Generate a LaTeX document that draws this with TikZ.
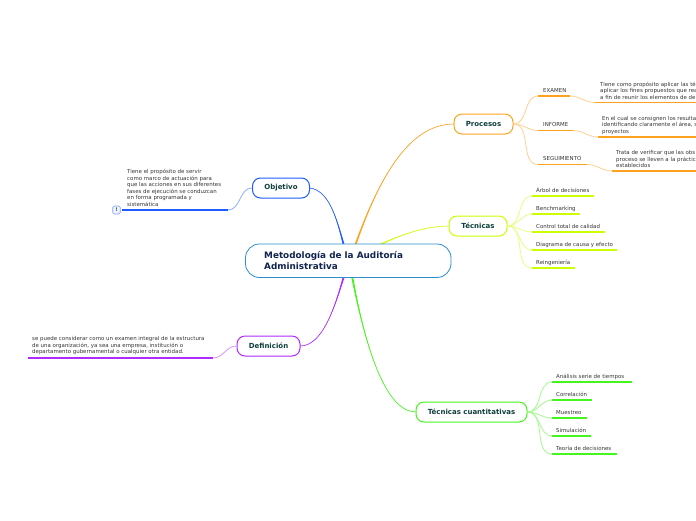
\documentclass[tikz,border=0pt]{standalone}
\usepackage{fontspec}
\setmainfont{DejaVu Sans}
\definecolor{cblue}{HTML}{1F5BFF}
\definecolor{corange}{HTML}{FFA21F}
\definecolor{cyellow}{HTML}{CCFF00}
\definecolor{cpurple}{HTML}{B02BFF}
\definecolor{cgreen}{HTML}{45F51E}
\definecolor{ccentral}{HTML}{2B8FD0}
\definecolor{ctitle}{HTML}{11234F}
\definecolor{ctopic}{HTML}{0E3F3A}
\definecolor{ctext}{HTML}{333333}
\tikzset{
  central/.style={draw=ccentral,line width=.8pt,fill=white,rounded corners=14pt,minimum width=205.5pt,minimum height=33.5pt,inner sep=0pt},
  title/.style={font=\bfseries\fontsize{8.85}{11}\selectfont,text=ctitle,align=left,inner sep=0pt,anchor=west},
  topic/.style={draw=#1,line width=1pt,fill=white,rounded corners=8pt,minimum height=20pt,inner sep=0pt,text=ctopic,font=\bfseries\fontsize{7}{8}\selectfont},
  leaf/.style={font=\fontsize{5.45}{6.5}\selectfont,text=ctext,align=left,inner sep=0pt,anchor=west,yshift=-.5pt},
  twig/.style={draw=#1!50,line width=.8pt},
  rule/.style={draw=#1,line width=1.4pt},
}
% tapered main branch: colour, topic end, control, control, root end, half width
\newcommand{\taperbranch}[6]{%
  \fill[#1] (#2) .. controls (#3) and (#4) .. ([xshift=-#6]#5) -- ([xshift=#6]#5) .. controls (#4) and (#3) .. (#2);
  \draw[#1,line width=.6pt] (#2) .. controls (#3) and (#4) .. (#5);
}
\begin{document}
\begin{tikzpicture}[x=1pt,y=-1pt]
\useasboundingbox (0,0) rectangle (696,520);
% anchor points on the central topic
\coordinate (cO) at (344,246);
\coordinate (cP) at (355,246);
\coordinate (cT) at (377,246);
\coordinate (cD) at (344,276);
\coordinate (cQ) at (352,276);
\coordinate (oR) at (309.5,188);
\coordinate (pL) at (454,124);
\coordinate (tL) at (449,226);
\coordinate (dR) at (300,346);
\coordinate (qL) at (416,412);
% connectors are drawn first, boxes cover their ends
\taperbranch{cblue}{oR}{328,190}{336,215}{cO}{1pt}
\taperbranch{corange}{pL}{410,124}{380,175}{cP}{1pt}
\taperbranch{cyellow}{tL}{425,226}{400,235}{cT}{2pt}
\taperbranch{cpurple}{dR}{322,346}{334,310}{cD}{1pt}
\taperbranch{cgreen}{qL}{385,412}{365,345}{cQ}{1pt}

\node[central] (root) at (348.25,260.75) {};
\node[title] (roottext) at (264,261) {Metodología de la Auditoría\\Administrativa};

\node[topic=corange,minimum width=59pt] (procesos) at (483.5,124) {\raisebox{-.5pt}{Procesos}};
\node[topic=cblue,minimum width=57pt] (objetivo) at (281,188) {\raisebox{-.5pt}{Objetivo}};
\node[topic=cyellow,minimum width=58pt] (tecnicas) at (478,226) {\raisebox{-.5pt}{Técnicas}};
\node[topic=cpurple,minimum width=63pt] (definicion) at (268.5,346) {\raisebox{-.5pt}{Definición}};
\node[topic=cgreen,minimum width=111pt] (cuant) at (471.5,412) {\raisebox{-.5pt}{Técnicas cuantitativas}};

% Procesos
\coordinate (e1) at (538,96);   \coordinate (e2) at (570,96);
\coordinate (e3) at (595,102.5);\coordinate (e4) at (696,102.5);
\coordinate (i1) at (538,130.5);\coordinate (i2) at (573,130.5);
\coordinate (i3) at (598,137);  \coordinate (i4) at (696,137);
\coordinate (s1) at (538,164.5);\coordinate (s2) at (587,164.5);
\coordinate (s3) at (612,171);  \coordinate (s4) at (696,171);
\foreach \a/\b/\c/\d in {e1/e2/e3/e4,i1/i2/i3/i4,s1/s2/s3/s4}{
  \draw[twig=corange] (procesos.east) to[out=0,in=180] (\a);
  \draw[twig=corange] (\b) to[out=0,in=180] (\c);
  \draw[rule=corange] (\a) -- (\b);
  \draw[rule=corange] (\c) -- (\d);
}
\node[leaf] (examen) at (543,90) {EXAMEN};
\node[leaf] (informe) at (543,124.3) {INFORME};
\node[leaf] (seguimiento) at (543,158.3) {SEGUIMIENTO};
\node[leaf] (exament) at (600,90) {Tiene como propósito aplicar las té\\aplicar los fines propuestos que rea\\a fin de reunir los elementos de de};
\node[leaf] (informet) at (602,124.5) {En el cual se consignen los resulta\\identificando claramente el área, s\\proyectos};
\node[leaf] (seguimientot) at (616,158.5) {Trata de verificar que las obs\\proceso se lleven a la práctic\\establecidos};

% Técnicas
\foreach \n/\y/\e in {a/196/594,b/214/580,c/232/605,d/250/617,f/268/575}{
  \coordinate (t\n1) at (532,\y);
  \coordinate (t\n2) at (\e,\y);
  \draw[twig=cyellow] (tecnicas.east) to[out=0,in=180] (t\n1);
  \draw[rule=cyellow] (t\n1) -- (t\n2);
}
\node[leaf] (arbol) at (536,190) {Árbol de decisiones};
\node[leaf] (bench) at (536,208) {Benchmarking};
\node[leaf] (control) at (536,226) {Control total de calidad};
\node[leaf] (diagrama) at (536,244) {Diagrama de causa y efecto};
\node[leaf] (reing) at (536,262) {Reingeniería};

% Técnicas cuantitativas
\foreach \n/\y/\e in {a/382/632,b/400/592,c/418/587,d/436/591,f/454/617}{
  \coordinate (q\n1) at (552,\y);
  \coordinate (q\n2) at (\e,\y);
  \draw[twig=cgreen] (cuant.east) to[out=0,in=180] (q\n1);
  \draw[rule=cgreen] (q\n1) -- (q\n2);
}
\node[leaf] (analisis) at (556,376) {Análisis serie de tiempos};
\node[leaf] (correl) at (556,394) {Correlación};
\node[leaf] (muestreo) at (556,412) {Muestreo};
\node[leaf] (simul) at (556,430) {Simulación};
\node[leaf] (teoria) at (556,448) {Teoría de decisiones};

% Objetivo
\coordinate (o1) at (228,210);
\coordinate (o2) at (122,210);
\draw[twig=cblue] (objetivo.west) to[out=180,in=0] (o1);
\draw[rule=cblue] (o1) -- (o2);
\node[leaf] (objt) at (127,187.5) {Tiene el propósito de servir\\como marco de actuación para\\que las acciones en sus diferentes\\fases de ejecución se conduzcan\\en forma programada y\\sistemática};
\node[draw=cblue!60,line width=.6pt,fill=cblue!6,rounded corners=1.5pt,minimum width=7.5pt,minimum height=8pt,inner sep=0pt,font=\bfseries\fontsize{5}{6}\selectfont,text=cblue!70!black] (alert) at (116.5,210) {!};

% Definición
\coordinate (d1) at (213,358);
\coordinate (d2) at (28,358);
\draw[twig=cpurple] (definicion.west) to[out=180,in=0] (d1);
\draw[rule=cpurple] (d1) -- (d2);
\node[leaf] (deft) at (32,345) {se puede considerar como un examen integral de la estructura\\de una organización, ya sea una empresa, institución o\\departamento gubernamental o cualquier otra entidad.};
\end{tikzpicture}
\end{document}
